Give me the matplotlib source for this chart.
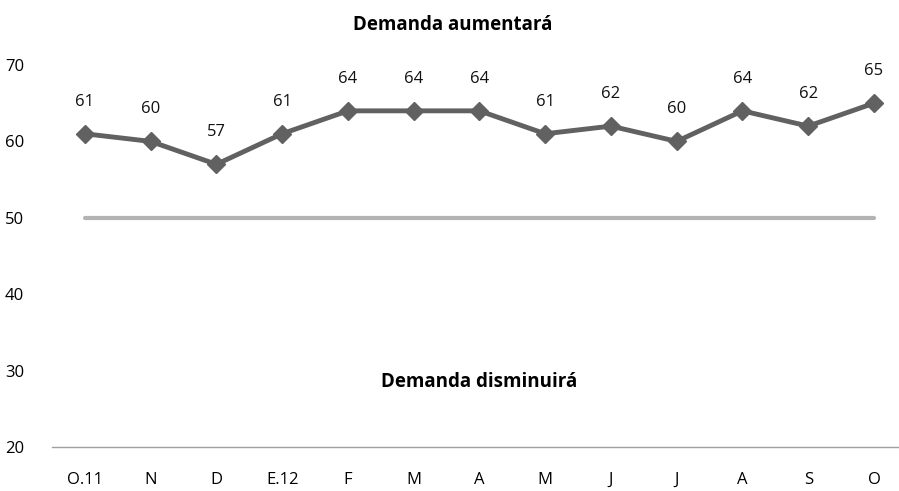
import matplotlib
matplotlib.use("Agg")
import matplotlib.pyplot as plt

#
# Data
#
months = ["O.11", "N", "D", "E.12", "F", "M", "A", "M", "J", "J", "A", "S", "O"]
demand = [61, 60, 57, 61, 64, 64, 64, 61, 62, 60, 64, 62, 65]
neutral = 50
y_ticks = [20, 30, 40, 50, 60, 70]

plt.rcParams["font.family"] = ["Open Sans", "DejaVu Sans"]

fig = plt.figure(figsize=(8.99, 4.91), dpi=100)
ax = fig.add_axes([52 / 899, 44 / 491, (899 - 52) / 899, (447 - 65) / 491])

x = list(range(len(months)))

# neutral reference line
ax.plot([x[0], x[-1]], [neutral, neutral], color="#b3b3b3", lw=3.0,
        solid_capstyle="round", zorder=2)

# main series
ax.plot(x, demand, color="#616161", lw=3.5, marker="D", markersize=9.5,
        markeredgecolor="#616161", zorder=3)

for xi, v in zip(x, demand):
    ax.annotate(str(v), (xi, v), xytext=(0, 23), textcoords="offset points",
                ha="center", va="center", fontsize=12, color="#111111")

ax.set_xlim(-0.5, (899 - 85) / 65.75)
ax.set_ylim(20, 70)
ax.set_xticks(x)
ax.set_xticklabels(months, fontsize=12)
ax.set_yticks(y_ticks)
ax.set_yticklabels([str(t) for t in y_ticks], fontsize=12)
ax.tick_params(axis="both", length=0)
ax.tick_params(axis="x", pad=18)
ax.tick_params(axis="y", pad=20)

for side in ["top", "right", "left"]:
    ax.spines[side].set_visible(False)
ax.spines["bottom"].set_color("#a0a0a0")
ax.spines["bottom"].set_linewidth(1)

fig.text(453 / 899, 1 - 25 / 491, "Demanda aumentará", ha="center", va="center",
         fontsize=13.5, fontweight="bold")
ax.text(6, 28.5, "Demanda disminuirá", ha="center", va="center",
        fontsize=13.5, fontweight="bold")

fig.savefig("out.png", dpi=100)
